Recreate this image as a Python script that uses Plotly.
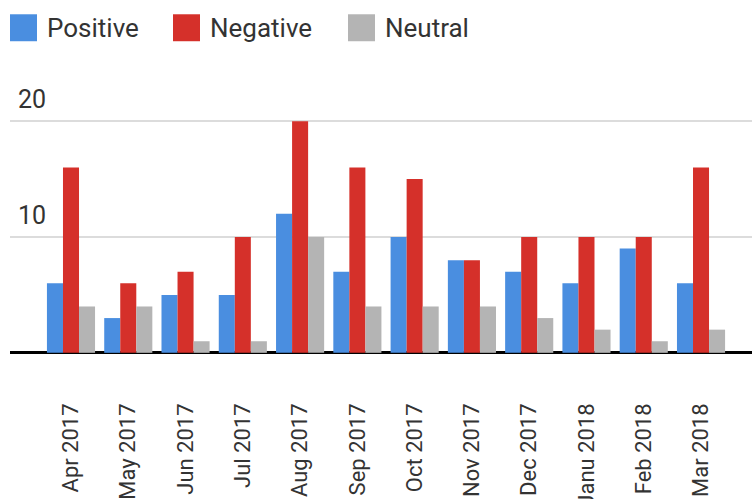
import plotly.graph_objects as go

months = ["Apr 2017", "May 2017", "Jun 2017", "Jul 2017", "Aug 2017", "Sep 2017",
          "Oct 2017", "Nov 2017", "Dec 2017", "Janu 2018", "Feb 2018", "Mar 2018"]
positive = [6, 3, 5, 5, 12, 7, 10, 8, 7, 6, 9, 6]
negative = [16, 6, 7, 10, 20, 16, 15, 8, 10, 10, 10, 16]
neutral = [4, 4, 1, 1, 10, 4, 4, 4, 3, 2, 1, 2]
y_ticks = [10, 20]

series = [("Positive", positive, "#4a8ee0"),
          ("Negative", negative, "#d5302a"),
          ("Neutral", neutral, "#b4b4b4")]

fig = go.Figure()
for name, vals, col in series:
    fig.add_trace(go.Bar(x=months, y=vals, name=name, marker_color=col,
                         marker_line_width=0, showlegend=False))

FONT = "Roboto"
TXT = "#333333"

# pixel geometry: 0 at y=353, 11.6 px per unit
Y0, PPU = 353.0, 11.6
YMIN, YMAX = -3.9, 24.5
W, L = 742.0, 10.0
TOP, BOT = Y0 - YMAX * PPU, Y0 - YMIN * PPU
H = BOT - TOP
def px(x):
    return (x - L) / W
def py(y):
    return (BOT - y) / H

# Manual legend (large squares like the reference)
legend_pos = [(10, 45), (173, 208), (348, 383)]
shapes = []
annotations = []
for (name, vals, col), (sx, tx) in zip(series, legend_pos):
    shapes.append(dict(type="rect", xref="paper", yref="paper",
                       x0=px(sx), x1=px(sx + 27), y0=py(41), y1=py(14),
                       fillcolor=col, line=dict(width=0)))
    annotations.append(dict(text=name, xref="paper", yref="paper",
                            x=px(tx), y=py(28), xanchor="left", yanchor="middle",
                            showarrow=False, font=dict(family=FONT, size=26, color=TXT)))

fig.update_layout(
    width=752, height=499,
    margin=dict(l=10, r=0, t=TOP, b=499 - BOT, autoexpand=False),
    paper_bgcolor="white", plot_bgcolor="white",
    barmode="group", bargap=0.16, bargroupgap=0,
    shapes=shapes, annotations=annotations,
    font=dict(family=FONT, color=TXT),
)
fig.update_xaxes(type="category", range=[-1.065, 11.89], tickangle=-90,
                 tickfont=dict(family=FONT, size=22, color=TXT),
                 showgrid=False, showline=False, ticks="", automargin=False)
fig.update_yaxes(range=[YMIN, YMAX], tickvals=y_ticks, ticktext=[str(v) for v in y_ticks],
                 ticklabelposition="inside", ticklabelshift=-22, ticklabelstandoff=5,
                 tickfont=dict(family=FONT, size=25, color=TXT),
                 showgrid=True, gridcolor="#dcdcdc", gridwidth=2,
                 zeroline=True, zerolinecolor="#000000", zerolinewidth=2.5,
                 showline=False, ticks="", automargin=False)

fig.write_html("out.html", config={"displayModeBar": False},
               post_script="document.body.style.margin='0';document.body.style.overflow='hidden';")
